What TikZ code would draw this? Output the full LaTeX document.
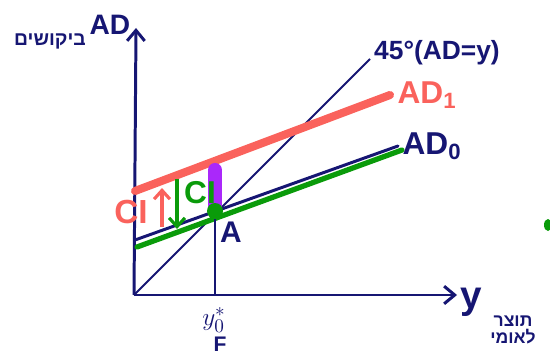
\documentclass[tikz,border=0pt]{standalone}
\usepackage{fontspec}
\setmainfont{Liberation Sans}
\newfontfamily\hebfont[Script=Hebrew]{Liberation Sans}
\TeXXeTstate=1
\usetikzlibrary{arrows.meta,positioning}
\definecolor{ink}{RGB}{22,22,115}
\definecolor{salmon}{RGB}{250,98,92}
\definecolor{grass}{RGB}{10,155,10}
\definecolor{lilac}{RGB}{170,40,250}

\begin{document}
\begin{tikzpicture}[x=0.02cm,y=-0.02cm,
    axis/.style={ink,line width=1.7pt,-{Straight Barb[length=6pt,width=10pt]}},
    adline/.style={line width=#1,line cap=round},
    ciarrow/.style={line width=1.8pt,-{Straight Barb[length=5pt,width=9pt]}},
    big/.style={font=\fontsize{#1}{#1}\selectfont\bfseries}]
  \useasboundingbox (0,0) rectangle (550,361);
  % axes
  \coordinate (O) at (134,295);
  \coordinate (ytip) at (136,28);
  \coordinate (xtip) at (457,295);
  \draw[axis] (O) -- (ytip);
  \draw[axis] (O) -- (xtip);
  % 45 degree line and demand lines
  \coordinate (d45) at (370,59);
  \draw[ink,line width=1.1pt] (O) -- (d45);
  \coordinate (ad0a) at (135,240);
  \coordinate (ad0b) at (398,146);
  \coordinate (g0a) at (137,247);
  \coordinate (g0b) at (402,150);
  \coordinate (ad1a) at (135,191);
  \coordinate (ad1b) at (390,95);
  \draw[ink,adline=1.7pt] (ad0a) -- (ad0b);
  \draw[grass,adline=3pt] (g0a) -- (g0b);
  \draw[salmon,adline=4.6pt] (ad1a) -- (ad1b);
  % equilibrium A
  \coordinate (A) at (215,211);
  \coordinate (Afoot) at (215,295);
  \coordinate (ptop) at (215,170);
  \draw[ink,line width=0.6pt] (A) -- (Afoot);
  \draw[lilac,line width=8pt,line cap=round] (ptop) -- (A);
  \fill[grass] (A) circle (8);
  \node[ink,big=17] (lblA) at (231,232) {A};
  % CI arrows
  \coordinate (rci0) at (162,227);
  \coordinate (rci1) at (162,188);
  \coordinate (gci0) at (177,179);
  \coordinate (gci1) at (177,229);
  \draw[salmon,ciarrow] (rci0) -- (rci1);
  \draw[grass,ciarrow] (gci0) -- (gci1);
  \node[salmon,big=19] (ciup) at (131,212) {CI};
  \node[grass,big=18] (cidown) at (200,193) {CI};
  % labels
  \node[salmon,big=18] (lblad1) at (427,95) {AD\textsubscript{1}};
  \node[ink,big=18] (lblad0) at (432,146) {AD\textsubscript{0}};
  \node[ink,big=15] (lbl45) at (437,53) {45°(AD=y)};
  \node[ink,big=16] (lblAD) at (110,25) {AD};
  \node[ink,big=11] (lblheb) at (50,41) {\hebfont\beginR ביקושים\endR};
  \node[ink,big=22] (lbly) at (471,302) {y};
  \node[ink,big=10,align=center] (lblprod) at (513,330)
    {\hebfont\beginR תוצר\endR\\\hebfont\beginR לאומי\endR};
  \node[ink,big=15] (ystar) at (214,320) {$y^{*}_{0}$};
  \node[ink,big=12] (lblF) at (220,344) {F};
  \fill[grass] (548,225) ellipse (4 and 6);
\end{tikzpicture}
\end{document}
